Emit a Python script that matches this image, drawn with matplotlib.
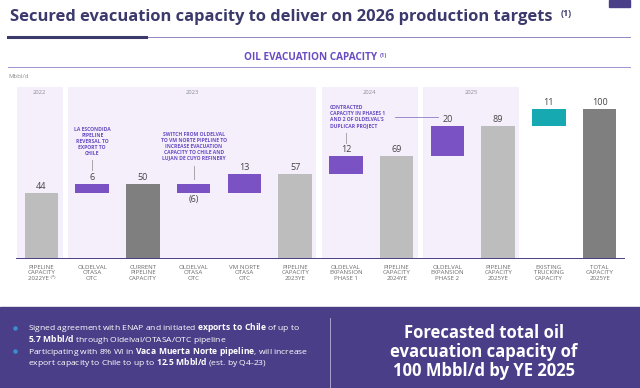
import matplotlib
matplotlib.use("Agg")
import matplotlib.pyplot as plt
from matplotlib.lines import Line2D
from matplotlib.patches import Rectangle

W, H = 640, 388

categories = [
    "PIPELINE\nCAPACITY\n2022YE ⁽²⁾",
    "OLDELVAL\nOTASA\nOTC",
    "CURRENT\nPIPELINE\nCAPACITY",
    "OLDELVAL\nOTASA\nOTC",
    "VM NORTE\nOTASA\nOTC",
    "PIPELINE\nCAPACITY\n2023YE",
    "OLDELVAL\nEXPANSION\nPHASE 1",
    "PIPELINE\nCAPACITY\n2024YE",
    "OLDELVAL\nEXPANSION\nPHASE 2",
    "PIPELINE\nCAPACITY\n2025YE",
    "EXISTING\nTRUCKING\nCAPACITY",
    "TOTAL\nCAPACITY\n2025YE",
]
values = [44, 6, 50, -6, 13, 57, 12, 69, 20, 89, 11, 100]
is_total = [True, False, True, False, False, True, False, True, False, True, False, True]
bar_kinds = ["total", "pipe", "key", "pipe", "pipe", "total",
             "pipe", "total", "pipe", "total", "truck", "key"]
years = ["2022", "2023", "2024", "2025"]
year_bars = [(0, 0), (1, 5), (6, 7), (8, 9)]

notes = [
    "LA ESCONDIDA\nPIPELINE\nREVERSAL TO\nEXPORT TO\nCHILE",
    "SWITCH FROM OLDELVAL\nTO VM NORTE PIPELINE TO\nINCREASE EVACUATION\nCAPACITY TO CHILE AND\nLUJAN DE CUYO REFINERY",
    "CONTRACTED\nCAPACITY IN PHASES 1\nAND 2 OF OLDELVAL'S\nDUPLICAR PROJECT",
]

COLORS = {"total": "#bdbdbd", "key": "#7f7f7f", "pipe": "#7a52c4", "truck": "#17a9b2"}
NAVY = "#3c3a6c"
PURPLE = "#6a4cc2"
PANEL = "#f4effb"
BAND = "#4b3e88"

plt.rcParams["font.family"] = ["Open Sans", "DejaVu Sans"]
plt.rcParams["mathtext.fontset"] = "custom"
plt.rcParams["mathtext.rm"] = "Open Sans"
plt.rcParams["mathtext.bf"] = "Open Sans:bold"

fig = plt.figure(figsize=(W / 100, H / 100), dpi=100)


def fx(px):
    return px / W


def fy(py):
    return 1 - py / H


# header
fig.text(fx(10), fy(17), "Secured evacuation capacity to deliver on 2026 production targets",
         fontsize=11.85, fontweight="bold", color=NAVY, va="center", ha="left")
fig.text(fx(561), fy(13), "(1)", fontsize=6.5, fontweight="bold", color=NAVY, va="center")
fig.add_artist(Line2D([fx(8), fx(630)], [fy(37), fy(37)], color="#8f86c0", lw=0.7))
fig.add_artist(Line2D([fx(8), fx(146)], [fy(37), fy(37)], color=NAVY, lw=2.2))
fig.add_artist(Rectangle((fx(609), fy(7)), fx(21), 7 / H, color=BAND))
fig.text(fx(311), fy(57), "OIL EVACUATION CAPACITY", fontsize=7.2, fontweight="bold",
         color=PURPLE, ha="center", va="center")
fig.text(fx(380), fy(55), "(1)", fontsize=4.2, fontweight="bold", color=PURPLE, va="center")
fig.add_artist(Line2D([fx(8), fx(630)], [fy(67), fy(67)], color="#9d92cf", lw=0.7))
fig.text(fx(8), fy(76), "Mbbl/d", fontsize=4.3, color="#8a8a8a", va="center")

# waterfall
ax = fig.add_axes([fx(16), fy(259), fx(625) - fx(16), (259 - 87) / H])
ax.set_xlim(-0.5, len(values) - 0.5)
ax.set_ylim(0, 172 / 1.5)

for (first, last), year in zip(year_bars, years):
    ax.axvspan(first - 0.48, last + 0.42, color=PANEL, lw=0, zorder=0)
    ax.text((first + last) / 2 - 0.03, 110.7, year, fontsize=4.2, color="#8c8c99",
            ha="center", va="center")

running = 0
for i, (v, tot, kind) in enumerate(zip(values, is_total, bar_kinds)):
    if tot:
        bottom, height, running = 0, v, v
    else:
        bottom, height = running + min(v, 0), abs(v)
        running += v
    ax.bar(i, height, bottom=bottom, width=0.66, color=COLORS[kind], zorder=2)
    if v >= 0:
        ax.text(i, bottom + height + 1.2, str(v), fontsize=6.5, color="#444444",
                ha="center", va="bottom")
    else:
        ax.text(i, bottom - 1.2, f"({-v})", fontsize=6.5, color="#444444",
                ha="center", va="top")

note_kw = dict(fontsize=3.6, fontweight="bold", color=PURPLE, linespacing=1.25, zorder=3)
ax.text(1, 78.3, notes[0], ha="center", va="center", **note_kw)
ax.plot([1, 1], [59.5, 66], color="#9a9a9a", lw=0.6)
ax.text(3, 75.3, notes[1], ha="center", va="center", **note_kw)
ax.plot([3, 3], [53.5, 62], color="#9a9a9a", lw=0.6)
ax.text(5.69, 94.7, notes[2], ha="left", va="center", **note_kw)
ax.plot([6, 6], [77.5, 84], color="#9a9a9a", lw=0.6)
ax.plot([6.97, 7.82], [94.7, 94.7], color="#8a7cc8", lw=0.6)

ax.axhline(0, color="#4a3f85", lw=1.4, zorder=3)
ax.set_xticks(range(len(categories)), categories, fontsize=4.4, color="#6a6a6a",
              linespacing=1.2)
ax.tick_params(axis="x", length=0, pad=4)
ax.set_yticks([])
for s in ax.spines.values():
    s.set_visible(False)

# bottom band
fig.add_artist(Rectangle((0, 0), 1, fy(307), color=BAND, zorder=0))
fig.add_artist(Line2D([fx(330), fx(330)], [0, fy(318)], color="#b9b3dc", lw=0.6))
bullet_kw = dict(fontsize=6.1, color="white", va="center", ha="left")
for py in (328, 351):
    fig.add_artist(Line2D([fx(15)], [fy(py)], marker="o", ms=2.2, color="#3e8fd0", lw=0))
fig.text(fx(28), fy(328), r"Signed agreement with ENAP and initiated $\bf{exports\ to\ Chile}$ of up to",
         **bullet_kw)
fig.text(fx(28), fy(339.5), r"$\bf{5.7\ Mbbl/d}$ through Oldelval/OTASA/OTC pipeline", **bullet_kw)
fig.text(fx(28), fy(351), r"Participating with 8% WI in $\bf{Vaca\ Muerta\ Norte\ pipeline}$, will increase",
         **bullet_kw)
fig.text(fx(28), fy(362.5), r"export capacity to Chile to up to $\bf{12.5\ Mbbl/d}$ (est. by Q4-23)", **bullet_kw)
fig.text(fx(484), fy(352), "Forecasted total oil\nevacuation capacity of\n100 Mbbl/d by YE 2025",
         fontsize=12, fontweight="bold", color="white", ha="center", va="center", linespacing=1.05)

fig.savefig("out.png", dpi=100)
